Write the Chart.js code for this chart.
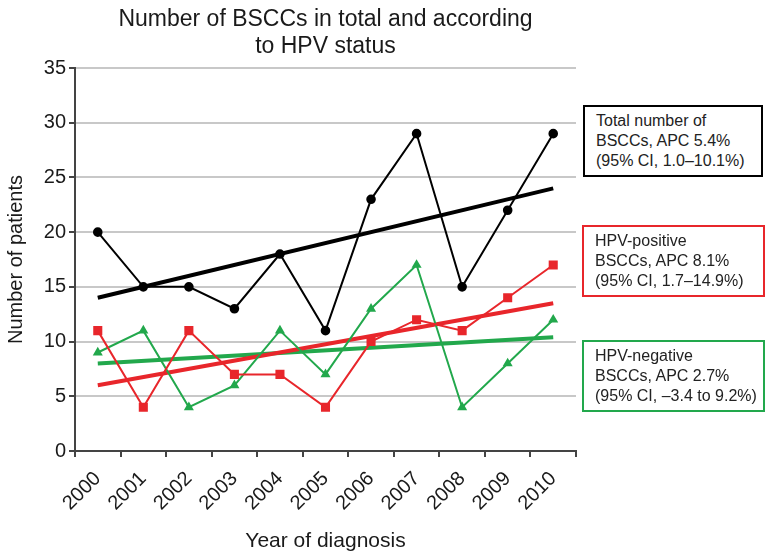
<!DOCTYPE html>
<html>
<head>
<meta charset="utf-8">
<script src="https://cdn.jsdelivr.net/npm/chart.js@4"></script>
<style>
  html, body { margin: 0; padding: 0; background: #fff; }
  #wrap { position: relative; width: 766px; height: 555px; font-family: "Liberation Sans", Arial, sans-serif; }
  canvas { position: absolute; left: 0; top: 0; }
  .title { position: absolute; left: 75px; width: 501px; top: 5px; text-align: center; font-size: 23px; line-height: 27px; color: #1a1a1a; }
  .box { position: absolute; box-sizing: border-box; border: 2px solid #000; background: #fff; font-size: 16px; line-height: 20px; color: #222; padding: 4px 0 0 11px; white-space: nowrap; }
</style>
</head>
<body>
<div id="wrap">
  <canvas id="c" width="766" height="555"></canvas>
  <div class="title">Number of BSCCs in total and according<br>to HPV status</div>
  <div class="box" style="left:583px;top:105px;width:180px;height:72px;border-color:#000;">Total number of<br>BSCCs, APC 5.4%<br>(95% CI, 1.0–10.1%)</div>
  <div class="box" style="left:582px;top:225px;width:183px;height:72px;border-color:#e8262b;">HPV-positive<br>BSCCs, APC 8.1%<br>(95% CI, 1.7–14.9%)</div>
  <div class="box" style="left:582px;top:340px;width:183px;height:72px;border-color:#22a84c;">HPV-negative<br>BSCCs, APC 2.7%<br>(95% CI, –3.4 to 9.2%)</div>
</div>
<script>
const years = ['2000','2001','2002','2003','2004','2005','2006','2007','2008','2009','2010'];
const totalBSCC = [20, 15, 15, 13, 18, 11, 23, 29, 15, 22, 29];
const hpvPositive = [11, 4, 11, 7, 7, 4, 10, 12, 11, 14, 17];
const hpvNegative = [9, 11, 4, 6, 11, 7, 13, 17, 4, 8, 12];
// Trend lines: fitted values at first and last year
const totalTrend = [14.0, 24.0];
const positiveTrend = [6.0, 13.5];
const negativeTrend = [8.0, 10.4];
const yTicks = [0, 5, 10, 15, 20, 25, 30, 35];

const BLACK = '#000000', RED = '#e8262b', GREEN = '#22a84c';

function trendData(pair) {
  return years.map((y, i) => i === 0 ? pair[0] : (i === years.length - 1 ? pair[1] : null));
}

new Chart(document.getElementById('c'), {
  type: 'line',
  data: {
    labels: years,
    datasets: [
      { label: 'Total', data: totalBSCC, borderColor: BLACK, backgroundColor: BLACK, borderWidth: 2, pointStyle: 'circle', pointRadius: 3.8, tension: 0 },
      { label: 'HPV-positive', data: hpvPositive, borderColor: RED, backgroundColor: RED, borderWidth: 2, pointStyle: 'rect', pointRadius: 5, tension: 0 },
      { label: 'HPV-negative', data: hpvNegative, borderColor: GREEN, backgroundColor: GREEN, borderWidth: 2, pointStyle: 'triangle', pointRadius: 3.8, tension: 0 },
      { label: 'Total trend', data: trendData(totalTrend), borderColor: BLACK, borderWidth: 4, pointRadius: 0, spanGaps: true },
      { label: 'Positive trend', data: trendData(positiveTrend), borderColor: RED, borderWidth: 4, pointRadius: 0, spanGaps: true },
      { label: 'Negative trend', data: trendData(negativeTrend), borderColor: GREEN, borderWidth: 4, pointRadius: 0, spanGaps: true }
    ]
  },
  options: {
    responsive: false,
    animation: false,
    layout: { padding: { top: 68, right: 190, left: 0, bottom: 0 } },
    plugins: { legend: { display: false }, title: { display: false }, tooltip: { enabled: false } },
    scales: {
      x: {
        type: 'category',
        offset: true,
        grid: { drawOnChartArea: false, offset: true, tickColor: '#444', tickLength: 6, lineWidth: 2 },
        border: { display: true, color: '#444', width: 2 },
        ticks: { minRotation: 45, maxRotation: 45, autoSkip: false, padding: 10, color: '#1a1a1a', font: { family: 'Liberation Sans', size: 20 } },
        title: { display: true, text: 'Year of diagnosis', color: '#1a1a1a', padding: { top: 4, bottom: 1 }, font: { family: 'Liberation Sans', size: 21 } },
        afterFit: s => { s.height = 104; }
      },
      y: {
        min: 0, max: 35,
        afterBuildTicks: s => { s.ticks = yTicks.map(v => ({ value: v })); },
        grid: {
          color: c => (c.tick && c.tick.value === 0) ? 'rgba(0,0,0,0)' : '#c8c8c8',
          lineWidth: 2, tickColor: '#444', tickLength: 6
        },
        border: { display: true, color: '#444', width: 2 },
        ticks: { color: '#1a1a1a', font: { family: 'Liberation Sans', size: 20 }, padding: 3 },
        title: { display: true, text: 'Number of patients', color: '#1a1a1a', font: { family: 'Liberation Sans', size: 20 } },
        afterFit: s => { s.width = 75; }
      }
    }
  }
});
</script>
</body>
</html>
